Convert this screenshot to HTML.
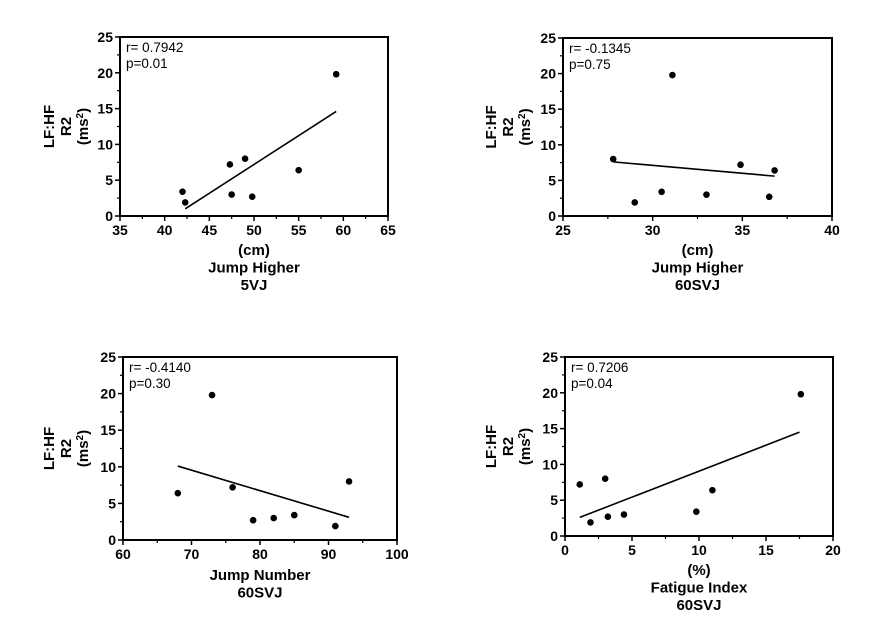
<!DOCTYPE html>
<html><head><meta charset="utf-8"><style>
body{margin:0;background:#fff;}
svg{display:block;font-family:"Liberation Sans",Arial,sans-serif;}
.tk{font-size:14px;font-weight:bold;}
.ti{font-size:15px;font-weight:bold;}
.an{font-size:13.5px;}
</style></head><body>
<svg id="c" width="886" height="637" viewBox="0 0 886 637"></svg>
<script>
const p1X=[42,42.3,47.3,47.5,49,49.8,55,59.2];
const p1Y=[3.4,1.9,7.2,3.0,8,2.7,6.4,19.8];
const p1Fit=[[42.3,1.0],[59.2,14.6]];
const p1XTicks=[35,40,45,50,55,60,65];
const p2X=[27.8,29,30.5,31.1,33,34.9,36.5,36.8];
const p2Y=[8,1.9,3.4,19.8,3.0,7.2,2.7,6.4];
const p2Fit=[[27.8,7.6],[36.8,5.6]];
const p2XTicks=[25,30,35,40];
const p3X=[68,73,76,79,82,85,91,93];
const p3Y=[6.4,19.8,7.2,2.7,3.0,3.4,1.9,8];
const p3Fit=[[68,10.1],[93,3.1]];
const p3XTicks=[60,70,80,90,100];
const p4X=[1.1,1.9,3,3.2,4.4,9.8,11,17.6];
const p4Y=[7.2,1.9,8,2.7,3.0,3.4,6.4,19.8];
const p4Fit=[[1.1,2.6],[17.5,14.5]];
const p4XTicks=[0,5,10,15,20];
const yTicks=[0,5,10,15,20,25];
const annots=[["r= 0.7942","p=0.01"],["r= -0.1345","p=0.75"],["r= -0.4140","p=0.30"],["r= 0.7206","p=0.04"]];
const xTitles=[["(cm)","Jump Higher","5VJ"],["(cm)","Jump Higher","60SVJ"],["Jump Number","60SVJ"],["(%)","Fatigue Index","60SVJ"]];

const NS="http://www.w3.org/2000/svg";
const svg=document.getElementById('c');
function mk(t,a,parent,txt){const e=document.createElementNS(NS,t);for(const k in a)e.setAttribute(k,a[k]);if(txt!=null)e.textContent=txt;(parent||svg).appendChild(e);return e;}

function panel(idx,box,xs,ys,fit,xt,ann,xtl,titleY,ylx){
  const g=mk('g',{});
  
  
  const [L,T,R,B]=box;
  const x0=xt[0],x1=xt[xt.length-1];
  const sx=v=>L+(v-x0)/(x1-x0)*(R-L);
  const sy=v=>B-(v/25)*(B-T);
  const fr=mk('rect',{x:L,y:T,width:R-L,height:B-T,fill:'none',stroke:'#000','stroke-width':2},g);
  
  
  const step=xt[1]-xt[0];
  for(let i=0;i<xt.length;i++){
    const x=sx(xt[i]);
    mk('line',{x1:x,y1:B,x2:x,y2:B+5,stroke:'#000','stroke-width':1.5},g);
    const t=mk('text',{x:x,y:B+19,'text-anchor':'middle',class:'tk'},g,xt[i]);
    
    
    if(i<xt.length-1){const xm=sx(xt[i]+step/2);mk('line',{x1:xm,y1:B,x2:xm,y2:B+3,stroke:'#000','stroke-width':1.2},g);}
  }
  for(let i=0;i<yTicks.length;i++){
    const y=sy(yTicks[i]);
    mk('line',{x1:L-5,y1:y,x2:L,y2:y,stroke:'#000','stroke-width':1.5},g);
    const t=mk('text',{x:L-7,y:y+5,'text-anchor':'end',class:'tk'},g,yTicks[i]);
    
    
    if(i<yTicks.length-1){const ym=sy(yTicks[i]+2.5);mk('line',{x1:L-3,y1:ym,x2:L,y2:ym,stroke:'#000','stroke-width':1.2},g);}
  }
  const ln=mk('line',{x1:sx(fit[0][0]),y1:sy(fit[0][1]),x2:sx(fit[1][0]),y2:sy(fit[1][1]),stroke:'#000','stroke-width':1.6},g);
  
  
  for(let i=0;i<xs.length;i++){
    const c=mk('circle',{cx:sx(xs[i]),cy:sy(ys[i]),r:3.3,fill:'#000'},g);
    
    
  }
  const a1=mk('text',{x:L+6,y:T+15,class:'an'},g,ann[0]);
  
  
  const a2=mk('text',{x:L+6,y:T+31,class:'an'},g,ann[1]);
  
  
  const cx=(L+R)/2;
  xtl.forEach((s,i)=>{
    const t=mk('text',{x:cx,y:titleY+i*17.5,'text-anchor':'middle',class:'ti'},g,s);
    
    
  });
  const my=(T+B)/2;
  const yt=mk('text',{transform:`translate(${ylx},${my}) rotate(-90)`,'text-anchor':'middle',class:'ti'},g);
  
  
  mk('tspan',{x:0,dy:0},yt,'LF:HF');
  mk('tspan',{x:0,dy:17},yt,'R2');
  mk('tspan',{x:0,dy:17},yt,'(ms');
  mk('tspan',{dy:-5,'font-size':'10px'},yt,'2');
  mk('tspan',{dy:5},yt,')');
}
panel(0,[120,37,388,216],p1X,p1Y,p1Fit,p1XTicks,annots[0],xTitles[0],255,54);
panel(1,[563,38,832,216],p2X,p2Y,p2Fit,p2XTicks,annots[1],xTitles[1],255,496);
panel(2,[123,357,397,540],p3X,p3Y,p3Fit,p3XTicks,annots[2],xTitles[2],580,54);
panel(3,[565,357,833,536],p4X,p4Y,p4Fit,p4XTicks,annots[3],xTitles[3],575,496);
</script>
</body></html>
